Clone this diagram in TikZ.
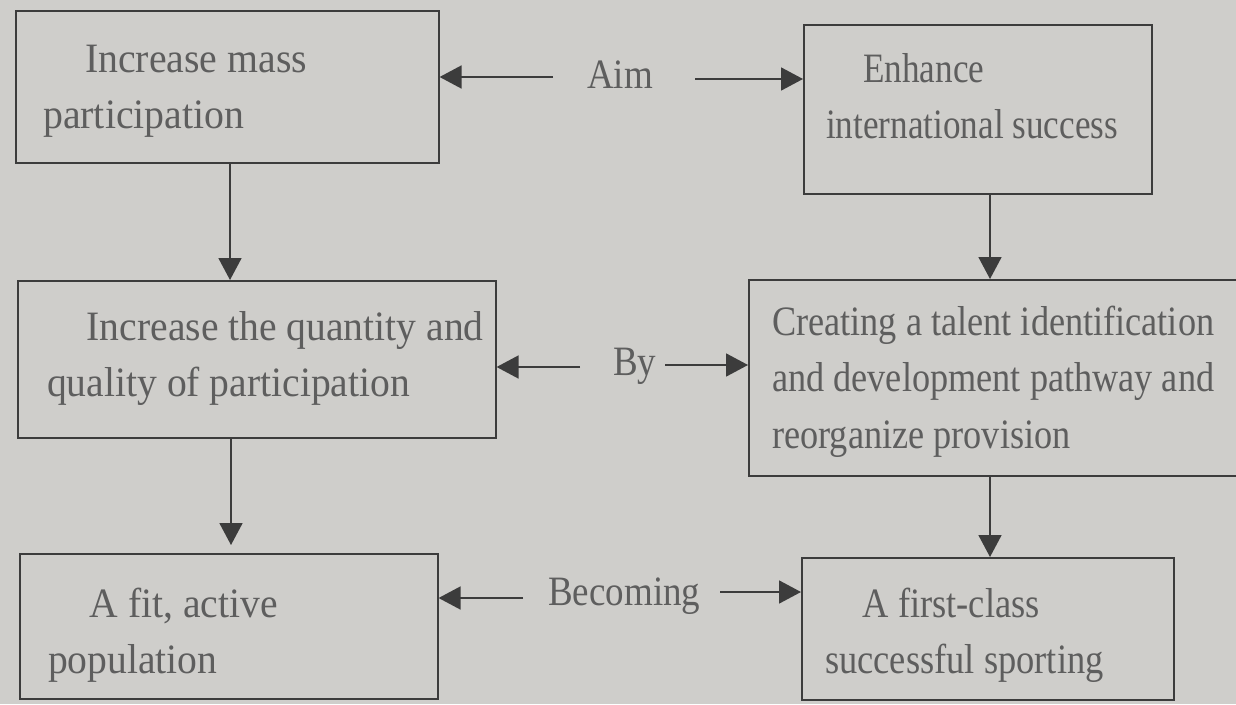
\documentclass[tikz,border=0pt]{standalone}
\usepackage{fontspec}
\setmainfont{Liberation Serif}
\usetikzlibrary{arrows.meta}
\definecolor{paper}{HTML}{CFCECB}
\definecolor{ink}{HTML}{5E5E5E}
\definecolor{rule}{HTML}{3C3C3C}
\newcommand\btxt[2]{\scalebox{#1}[1.13]{\begin{tabular}[t]{@{}l@{}}#2\end{tabular}}}
\tikzset{
  boxnode/.style={draw=rule, line width=1.6pt, rectangle, inner sep=0pt, anchor=north west},
  txt/.style={anchor=base west, inner sep=0pt, text=ink, font=\fontsize{37}{50}\selectfont},
  arr/.style={draw=rule, line width=1.8pt, -{Triangle[length=22pt,width=23pt]}}
}
\begin{document}
\begin{tikzpicture}[x=1pt,y=-1pt]
\fill[paper] (0,0) rectangle (1236,704);
\useasboundingbox (0,0) rectangle (1236,704);
% boxes
\node[boxnode, minimum width=423pt, minimum height=152pt] (b1) at (15,10) {};
\node[boxnode, minimum width=348pt, minimum height=169pt] (b2) at (803,24) {};
\node[boxnode, minimum width=478pt, minimum height=157pt] (b3) at (17,280) {};
\node[boxnode, minimum width=494pt, minimum height=196pt] (b4) at (748,279) {};
\node[boxnode, minimum width=418pt, minimum height=145pt] (b5) at (19,553) {};
\node[boxnode, minimum width=372pt, minimum height=142pt] (b6) at (801,557) {};
% box texts
\node[txt] (t1) at (43,72) {\btxt{1.075}{\hspace*{39pt}Increase mass\\participation}};
\node[txt] (t2) at (826,82) {\btxt{0.95}{\hspace*{39pt}Enhance\\international success}};
\node[txt] (t3) at (47,340) {\btxt{1.07}{\hspace*{37pt}Increase the quantity and\\quality of participation}};
\node[txt] (t4) at (772,335) {\btxt{0.98}{Creating a talent identification\\and development pathway and\\reorganize provision}};
\node[txt] (t5) at (48,617) {\btxt{1.07}{\hspace*{39pt}A fit, active\\population}};
\node[txt] (t6) at (825,617) {\btxt{0.985}{\hspace*{38pt}A first-class\\successful sporting}};
% labels
\node[txt] (aim) at (587,88) {\scalebox{1}[1.13]{Aim}};
\node[txt] (by) at (613,375) {\scalebox{1}[1.13]{By}};
\node[txt] (becoming) at (548,605) {\scalebox{1}[1.13]{Becoming}};
% connector ends
\coordinate (aimL) at (553,77);
\coordinate (aimR) at (695,79);
\coordinate (byL) at (580,367);
\coordinate (byR) at (665,365);
\coordinate (beL) at (523,598);
\coordinate (beR) at (720,592);
\coordinate (v1) at (230,0);
\coordinate (v2) at (990,0);
\coordinate (v3) at (231,0);
\coordinate (v4) at (990,0);
% horizontal connectors
\draw[arr] (aimL) -- (b1.east |- aimL);
\draw[arr] (aimR) -- (b2.west |- aimR);
\draw[arr] (byL) -- (b3.east |- byL);
\draw[arr] (byR) -- (b4.west |- byR);
\draw[arr] (beL) -- (b5.east |- beL);
\draw[arr] (beR) -- (b6.west |- beR);
% vertical connectors
\draw[arr] (b1.south -| v1) -- (b3.north -| v1);
\draw[arr] (b2.south -| v2) -- (b4.north -| v2);
\draw[arr] (b3.south -| v3) -- ([yshift=8pt]b5.north -| v3);
\draw[arr] (b4.south -| v4) -- (b6.north -| v4);
\end{tikzpicture}
\end{document}
